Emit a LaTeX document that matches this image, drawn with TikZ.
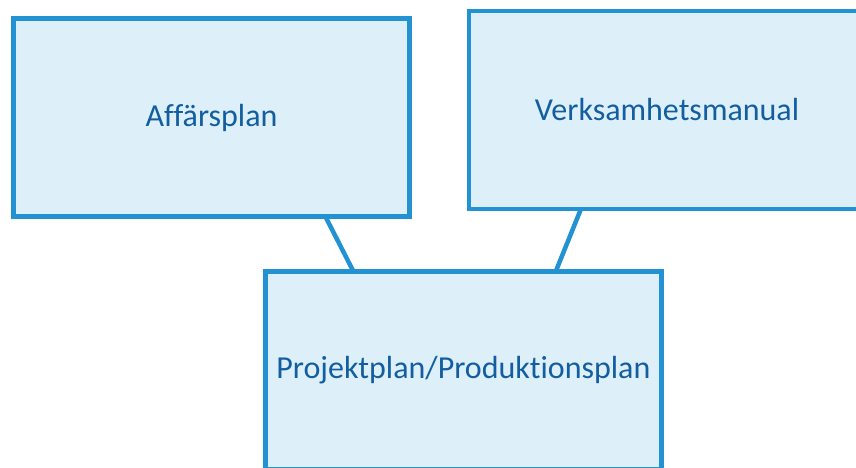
\documentclass[tikz,border=0pt]{standalone}
\usepackage{fontspec}
\setmainfont{Carlito}[Ligatures=NoCommon]
\definecolor{planline}{RGB}{35,146,210}
\definecolor{planfill}{RGB}{221,239,249}
\definecolor{plantext}{RGB}{18,94,160}
\tikzset{planbox/.style={draw=planline, fill=planfill, line width=4.5pt, outer sep=0pt,
    minimum width=396pt, minimum height=198pt, text=plantext, font=\fontsize{32}{38}\selectfont}}
\begin{document}
\begin{tikzpicture}[x=1pt,y=-1pt]
	\useasboundingbox (0,0) rectangle (856,468);
	\clip (0,0) rectangle (856,468);
	\node[planbox] (aff) at (211.5,117.5) {Affärsplan};
	\node[planbox] (verk) at (667,110) {Verksamhetsmanual};
	\node[planbox] (proj) at (463.4,370.5) {Projektplan/Produktionsplan};
	\draw[planline, line width=4.5pt] (aff.-41.9) -- (proj.138.5);
	\draw[planline, line width=4.5pt] (verk.-131.8) -- (proj.47.6);
\end{tikzpicture}
\end{document}
